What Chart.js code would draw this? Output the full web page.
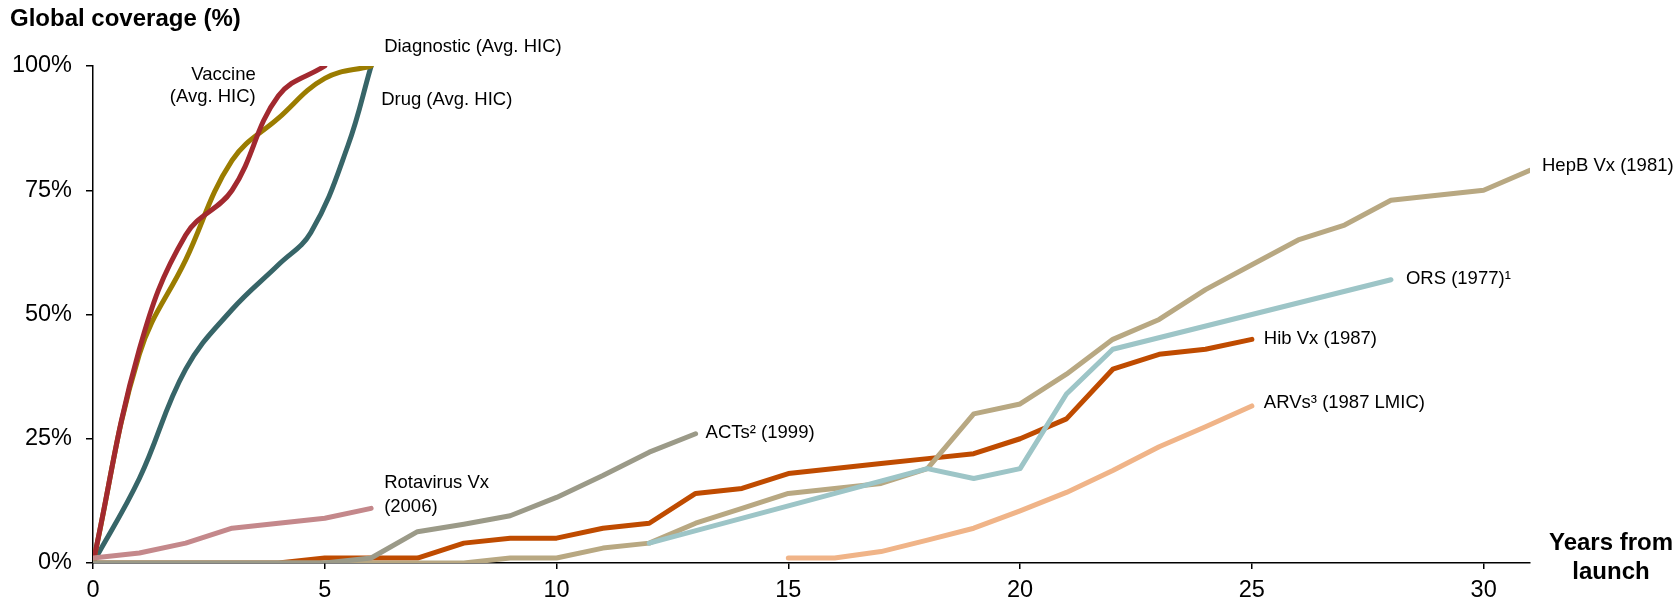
<!DOCTYPE html>
<html>
<head>
<meta charset="utf-8">
<style>
  html, body { margin: 0; padding: 0; background: #fff; }
</style>
<script src="https://cdn.jsdelivr.net/npm/chart.js@4.4.1/dist/chart.umd.min.js"></script>
</head>
<body>
<canvas id="coverageChart" width="1676" height="602"></canvas>
<script>
// years from launch / global coverage (%)
const vaccineX = [0, 1, 2, 3, 4, 5];
const vaccineY = [0, 43, 66, 75, 94, 100];
const diagnosticX = [0, 1, 2, 3, 4, 5, 6];
const diagnosticY = [0, 42, 61, 81, 89.5, 97.5, 100];
const drugX = [0, 1, 2, 3, 4, 4.7, 5.5, 6];
const drugY = [0, 17, 39, 51, 60, 66.5, 84, 100];
const rotaY = [1, 2, 4, 7, 8, 9, 11];
const actsY = [0, 0, 0, 0, 0, 0, 1, 6.3, 7.8, 9.5, 13.2, 17.6, 22.3, 26];
const hibY = [0, 0, 0, 0, 0, 1, 1, 1, 4, 5, 5, 7, 8, 14, 15, 18, 19, 20, 21, 22, 25, 29, 39, 42, 43, 45];
const hepbY = [0, 0, 0, 0, 0, 0, 0, 0, 0, 1, 1, 3, 4, 8, 11, 14, 15, 16, 19, 30, 32, 38, 45, 49, 55, 60, 65, 68, 73, 74, 75, 79];
const orsX = [12, 18, 19, 20, 21, 22, 28];
const orsY = [4, 19, 17, 19, 34, 43, 57];
const arvStart = 15;
const arvY = [1, 1, 2.3, 4.6, 7, 10.5, 14.2, 18.6, 23.4, 27.4, 31.6];
const yTicks = [0, 25, 50, 75, 100];

const pts = (xs, ys) => xs.map((x, i) => ({ x: x, y: ys[i] }));
const fromYear = (start, ys) => ys.map((y, i) => ({ x: start + i, y: y }));

const FONT = '"Liberation Sans", Arial, sans-serif';

function series(label, data, color, tension) {
  return {
    label: label,
    data: data,
    borderColor: color,
    backgroundColor: color,
    borderWidth: 5,
    borderCapStyle: 'round',
    borderJoinStyle: 'round',
    pointRadius: 0,
    pointHoverRadius: 0,
    tension: tension || 0
  };
}

// first dataset is drawn on top
const datasets = [
  series('ACTs', fromYear(0, actsY), '#9b9a88'),
  series('ORS', pts(orsX, orsY), '#9dc5c7'),
  series('HepB', fromYear(0, hepbY), '#b8a882'),
  series('Hib', fromYear(0, hibY), '#bf4b00'),
  series('ARVs', fromYear(arvStart, arvY), '#f0b488'),
  series('Rotavirus', fromYear(0, rotaY), '#c4888b'),
  series('Vaccine', pts(vaccineX, vaccineY), '#a2292f', 0.4),
  series('Diagnostic', pts(diagnosticX, diagnosticY), '#9b7c00', 0.4),
  series('Drug', pts(drugX, drugY), '#376568', 0.4)
];

// text next to the end of each line: offsets in px from last point
const endLabels = [
  { series: 'Vaccine', lines: ['Vaccine', '(Avg. HIC)'], dx: -69, dy: [9, 31], align: 'right' },
  { series: 'Diagnostic', lines: ['Diagnostic (Avg. HIC)'], dx: 13, dy: [-19] },
  { series: 'Drug', lines: ['Drug (Avg. HIC)'], dx: 10, dy: [34] },
  { series: 'Rotavirus', lines: ['Rotavirus Vx', '(2006)'], dx: 13, dy: [-25, -1] },
  { series: 'ACTs', lines: ['ACTs\u00b2 (1999)'], dx: 10, dy: [-1] },
  { series: 'HepB', lines: ['HepB Vx (1981)'], dx: 12, dy: [-4] },
  { series: 'ORS', lines: ['ORS (1977)\u00b9'], dx: 15, dy: [-1] },
  { series: 'Hib', lines: ['Hib Vx (1987)'], dx: 12, dy: [0] },
  { series: 'ARVs', lines: ['ARVs\u00b3 (1987 LMIC)'], dx: 12, dy: [-3] }
];

const textPlugin = {
  id: 'texts',
  afterDatasetsDraw(chart) {
    const c = chart.ctx;
    c.save();
    c.fillStyle = '#000';
    c.textBaseline = 'middle';
    c.font = '18.5px ' + FONT;
    endLabels.forEach(l => {
      const idx = chart.data.datasets.findIndex(d => d.label === l.series);
      const els = chart.getDatasetMeta(idx).data;
      const last = els[els.length - 1];
      c.textAlign = l.align || 'left';
      l.lines.forEach((t, i) => c.fillText(t, last.x + l.dx, last.y + l.dy[i]));
    });
    c.font = 'bold 24px ' + FONT;
    c.textAlign = 'left';
    c.fillText('Global coverage (%)', 10, 19);
    c.textAlign = 'center';
    c.fillText('Years from', 1611, 543);
    c.fillText('launch', 1611, 572);
    c.restore();
  }
};

const ctx = document.getElementById('coverageChart');

new Chart(ctx, {
  type: 'line',
  data: { datasets: datasets },
  options: {
    responsive: false,
    animation: false,
    devicePixelRatio: 1,
    layout: { padding: { top: 66, right: 146, left: 0, bottom: 0 } },
    plugins: {
      legend: { display: false },
      tooltip: { enabled: false }
    },
    scales: {
      x: {
        type: 'linear',
        min: 0,
        max: 31,
        border: { color: '#000', width: 1.5 },
        grid: { drawOnChartArea: false, drawTicks: true, tickLength: 6, color: '#000', lineWidth: 1.5 },
        ticks: {
          stepSize: 5,
          includeBounds: false,
          maxRotation: 0,
          padding: 7,
          color: '#000',
          font: { family: FONT, size: 23.5 }
        },
        afterFit: s => { s.height = 39; }
      },
      y: {
        min: 0,
        max: 100,
        border: { color: '#000', width: 1.5 },
        grid: { drawOnChartArea: false, drawTicks: true, tickLength: 7, color: '#000', lineWidth: 1.5 },
        afterBuildTicks: s => { s.ticks = yTicks.map(v => ({ value: v })); },
        ticks: {
          padding: 14,
          color: '#000',
          font: { family: FONT, size: 23.5 },
          callback: v => v + '%'
        },
        afterFit: s => { s.width = 93; }
      }
    }
  },
  plugins: [textPlugin]
});
</script>
</body>
</html>
